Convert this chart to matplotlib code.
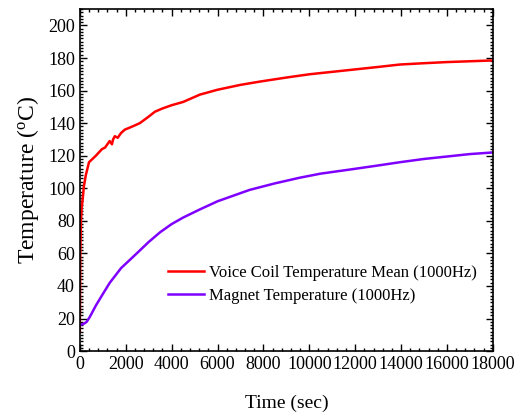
import numpy as np
import matplotlib
matplotlib.use('Agg')
import matplotlib.pyplot as plt
from matplotlib.ticker import MultipleLocator

plt.rcParams['font.family'] = ['Liberation Serif', 'DejaVu Serif']
plt.rcParams['mathtext.fontset'] = 'custom'
plt.rcParams['mathtext.rm'] = 'Liberation Serif'

# voice coil temperature
t_coil = [0, 20, 50, 80, 130, 175, 260, 400, 550, 700, 960, 1100, 1200, 1300, 1400, 1450,
          1525, 1650, 1800, 1960, 2300, 2615, 3000, 3270, 3600, 4000, 4500, 5230, 6000, 7000, 7840,
          9000, 10000, 11000, 12000, 13000, 13950, 15000, 16000, 17000, 18000]
T_coil = [12, 60, 80, 88, 94, 101, 108, 116, 118, 120, 124, 125, 127, 129, 127, 130,
          132, 131, 134, 136, 138, 140, 144, 147, 149, 151, 153, 157.5, 160.5, 163.5, 165.5,
          168, 170, 171.5, 173, 174.5, 176, 176.8, 177.5, 178, 178.5]

# magnet temperature
t_mag = [0, 100, 200, 300, 435, 700, 1000, 1307, 1800, 2480, 3000, 3500, 4000, 4500,
         5230, 6000, 7400, 8500, 9590, 10500, 11770, 13000, 13950, 15000, 16000, 17000, 18000]
T_mag = [16, 16.5, 17, 18, 21, 28, 35, 42, 51, 60, 67, 73, 78, 82,
         87, 92, 99, 103, 106.5, 109, 111.5, 114, 116, 118, 119.5, 121, 122]

fig = plt.figure(figsize=(5.15, 4.16), dpi=100)
ax = fig.add_axes([0.155, 0.156, 0.802, 0.822])

ax.plot(t_coil, T_coil, color='#ff0000', lw=1.8, label='Voice Coil Temperature Mean (1000Hz)')
ax.plot(t_mag, T_mag, color='#7f00ff', lw=1.8, label='Magnet Temperature (1000Hz)')

ax.set_xlim(0, 18000)
ax.set_ylim(0, 210)
ax.xaxis.set_major_locator(MultipleLocator(2000))
ax.xaxis.set_minor_locator(MultipleLocator(400))
ax.yaxis.set_major_locator(MultipleLocator(20))
ax.yaxis.set_minor_locator(MultipleLocator(2))
ax.tick_params(which='both', direction='in', top=True, right=True, labelsize=13, width=1)
ax.tick_params(which='major', length=5)
ax.tick_params(which='minor', length=2.5)
for s in ax.spines.values():
    s.set_linewidth(1.2)

ax.set_xlabel('Time (sec)', fontsize=14, labelpad=16)
ax.set_ylabel('Temperature ($\\mathregular{^{o}}$C)', fontsize=17, labelpad=5)

ax.legend(loc='lower left', bbox_to_anchor=(0.213, 0.137), frameon=False, fontsize=12,
          handlelength=2.2, handletextpad=0.3, labelspacing=0.45, borderaxespad=0, borderpad=0)

fig.savefig('out.png', dpi=100)
